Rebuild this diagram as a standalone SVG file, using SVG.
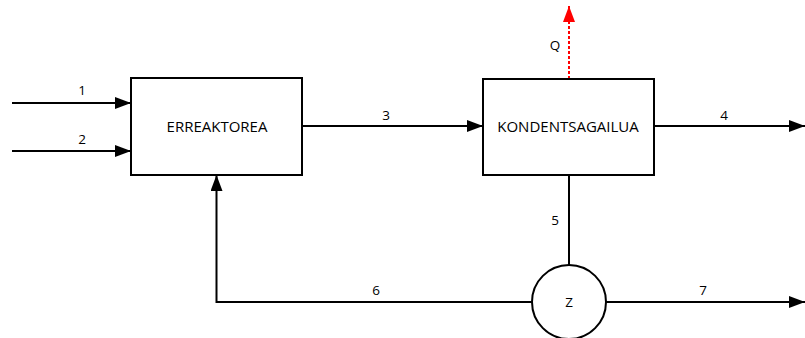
<svg xmlns="http://www.w3.org/2000/svg" width="805" height="338" viewBox="0 0 805 338">
<defs>
<style>
.box{fill:#fff;stroke:#000;stroke-width:2}
.ln{fill:none;stroke:#000;stroke-width:2}
.q{fill:none;stroke:#f00;stroke-width:2;stroke-dasharray:3,2}
text{font-family:"Open Sans","Liberation Sans",sans-serif;font-size:13.5px;fill:#000;text-anchor:middle}
.nm{font-size:15px}
</style>
<marker id="ah" viewBox="0 0 16 12" refX="16" refY="6" markerWidth="16" markerHeight="12" markerUnits="userSpaceOnUse" orient="auto">
<path d="M0,0 L16,6 L0,12 Z" fill="#000"/>
</marker>
<marker id="ahr" viewBox="0 0 16 12" refX="16" refY="6" markerWidth="16" markerHeight="12" markerUnits="userSpaceOnUse" orient="auto">
<path d="M0,0 L16,6 L0,12 Z" fill="#f00"/>
</marker>
</defs>
<g id="connectors">
<path class="ln" d="M12,103 H131" marker-end="url(#ah)"/>
<path class="ln" d="M12,151 H131" marker-end="url(#ah)"/>
<path class="ln" d="M302,126 H483" marker-end="url(#ah)"/>
<path class="ln" d="M654,126 H805" marker-end="url(#ah)"/>
<path class="q" d="M569,79 V6" marker-end="url(#ahr)"/>
<path class="ln" d="M569,175 V265"/>
<path class="ln" d="M532,302 H216.5 V175" marker-end="url(#ah)"/>
<path class="ln" d="M606,302 H805" marker-end="url(#ah)"/>
<text x="82" y="95">1</text>
<text x="82" y="144">2</text>
<text x="386" y="120">3</text>
<text x="724" y="120">4</text>
<text x="555" y="225">5</text>
<text x="376" y="295">6</text>
<text x="703" y="295">7</text>
<text x="555" y="50">Q</text>
</g>
<g id="erreaktorea">
<rect class="box" x="131" y="78" width="171" height="97"/>
<text class="nm" x="217" y="132">ERREAKTOREA</text>
</g>
<g id="kondentsagailua">
<rect class="box" x="483" y="79" width="171" height="96"/>
<text class="nm" x="568" y="132">KONDENTSAGAILUA</text>
</g>
<g id="z">
<circle class="box" cx="569" cy="302" r="37"/>
<text x="569" y="307">Z</text>
</g>
</svg>
